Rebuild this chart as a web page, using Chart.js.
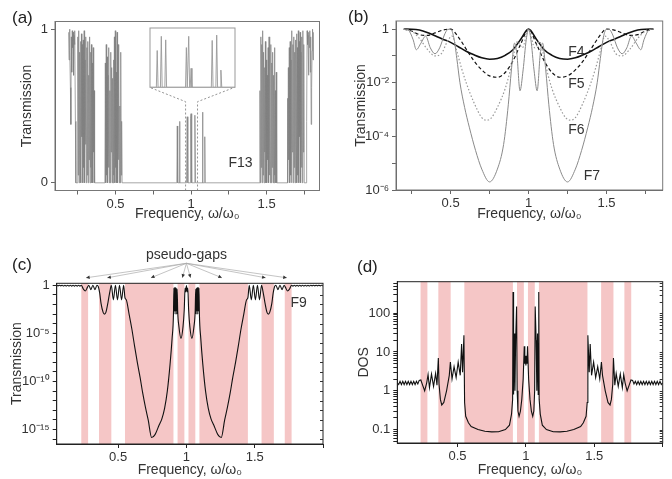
<!DOCTYPE html>
<html>
<head>
<meta charset="utf-8">
<script src="https://cdn.jsdelivr.net/npm/chart.js@4.4.0/dist/chart.umd.min.js"></script>
<style>
  body { margin:0; background:#fff; width:672px; height:479px; position:relative; overflow:hidden;
         font-family:"Liberation Sans", Arial, sans-serif; }
  canvas { position:absolute; }
  .tag { position:absolute; font-size:17px; line-height:17px; color:#222; }
</style>
</head>
<body>
<canvas id="chartA" width="336" height="230" style="left:0;top:0"></canvas>
<canvas id="chartInset" width="90" height="64" style="left:148px;top:26px"></canvas>
<canvas id="chartB" width="336" height="230" style="left:336px;top:0"></canvas>
<canvas id="chartC" width="336" height="249" style="left:0;top:230px"></canvas>
<canvas id="chartD" width="336" height="249" style="left:336px;top:230px"></canvas>
<div class="tag" style="left:12px;top:9px">(a)</div>
<div class="tag" style="left:348px;top:8px">(b)</div>
<div class="tag" style="left:12px;top:256px">(c)</div>
<div class="tag" style="left:357px;top:258px">(d)</div>
<script>
// ---- (a) F13 transmission, linear scale
const aFreq = [
  0.190,0.193,0.196,0.199,0.202,0.205,0.208,0.211,0.214,0.217,0.220,0.223,0.226,0.229,0.232,0.235,0.238,0.249,
  0.251,0.254,0.257,0.260,0.263,0.266,0.269,0.272,0.275,0.278,0.281,0.284,0.287,0.290,0.293,0.296,0.299,0.302,0.305,0.308,
  0.311,0.314,0.317,0.320,0.323,0.326,0.329,0.332,0.335,0.338,0.341,0.344,0.347,0.350,0.353,0.356,0.359,0.362,0.365,
  0.430,0.433,0.436,0.439,0.442,0.445,0.448,0.451,0.454,0.457,0.460,0.463,0.466,0.469,0.472,0.475,0.478,0.481,0.484,0.487,0.490,
  0.493,0.496,0.499,0.502,0.505,0.508,0.511,0.514,0.517,0.520,0.523,0.526,0.529,0.532,0.535,0.538,0.541,0.544,0.547,
  0.906,0.909,0.912,0.921,0.924,0.927,0.970,0.9745,0.979,0.994,0.997,1.000,1.003,1.006,1.021,1.0255,1.030,
  1.073,1.076,1.079,1.088,1.091,1.094,1.100,
  1.453,1.456,1.459,1.462,1.465,1.468,1.471,1.474,1.477,1.480,1.483,1.486,1.489,1.492,1.495,1.498,1.501,1.504,1.507,1.510,
  1.513,1.516,1.519,1.522,1.525,1.528,1.531,1.534,1.537,1.540,1.543,1.546,1.549,1.552,1.555,1.558,1.561,1.564,1.567,
  1.635,1.638,1.641,1.644,1.647,1.650,1.653,1.656,1.659,1.662,1.665,1.668,1.671,1.674,1.677,1.680,1.683,1.686,1.689,1.692,
  1.695,1.698,1.701,1.704,1.707,1.710,1.713,1.716,1.719,1.722,1.725,1.728,1.731,1.734,1.737,1.740,1.743,1.746,1.749,
  1.751,1.762,1.765,1.768,1.771,1.774,1.777,1.780,1.783,1.786,1.789,1.792,1.795,1.798,1.801,1.804,1.807,1.810
];
const aTrans = [
  0.98,0.80,1.00,0.86,0.62,0.38,0.95,0.72,0.99,0.88,0.98,0.70,0.96,0.90,0.99,0.40,0.00,0.00,
  0.95,0.05,0.99,0.00,0.85,0.20,0.92,0.00,0.97,0.30,0.90,0.00,0.93,0.10,0.99,0.00,0.80,0.25,0.95,0.00,
  0.88,0.05,0.92,0.00,0.70,0.15,0.95,0.00,0.85,0.10,0.90,0.00,0.78,0.00,0.88,0.20,0.60,0.00,0.00,
  0.00,0.78,0.00,0.90,0.05,0.82,0.00,0.70,0.10,0.88,0.00,0.60,0.00,0.85,0.20,0.75,0.00,0.68,0.00,0.80,0.05,
  0.95,0.00,0.99,0.10,0.72,0.00,0.98,0.00,0.90,0.15,0.70,0.00,0.50,0.00,0.85,0.05,0.40,0.00,0.00,
  0.00,0.37,0.00,0.00,0.40,0.00,0.00,0.43,0.00,0.00,0.42,0.45,0.43,0.00,0.00,0.44,0.00,
  0.00,0.46,0.00,0.00,0.30,0.00,0.00,
  0.00,0.60,0.00,0.95,0.10,0.90,0.00,0.99,0.05,0.85,0.00,0.75,0.20,0.92,0.00,0.80,0.00,0.70,0.15,0.88,
  0.00,0.95,0.05,0.65,0.00,0.90,0.00,0.78,0.10,0.85,0.00,0.70,0.00,0.88,0.05,0.60,0.00,0.72,0.00,
  0.00,0.55,0.00,0.75,0.15,0.88,0.00,0.92,0.05,0.80,0.00,0.99,0.20,0.90,0.00,0.95,0.10,0.85,0.00,0.93,
  0.25,0.97,0.00,0.88,0.05,0.99,0.00,0.92,0.30,0.98,0.00,0.85,0.10,0.95,0.00,0.99,0.20,0.90,0.00,
  0.00,0.00,0.40,0.99,0.90,0.96,0.70,0.98,0.88,0.99,0.72,0.95,0.38,0.62,0.86,1.00,0.80,0.98
];
// zoom window of the inset and its guide lines (data units of panel a)
const guideLeftX = [0.964, 0.964, 0.727];
const guideRightX = [1.043, 1.043, 1.287];
const guideY = [-0.05, 0.528, 0.621];
// inset: transmission peaks around omega0
const insetFreq = [0.964,0.9699,0.9707,0.9715,0.9737,0.9745,0.9753,0.9778,0.9786,0.9794,0.9970,0.9978,0.9986,0.9992,
  1.0000,1.0008,1.0014,1.0022,1.0030,1.0210,1.0218,1.0226,1.0252,1.0260,1.0268,1.0291,1.0299,1.0307,1.043];
const insetTrans = [0,0,0.31,0,0,0.43,0,0,0.40,0,0,0.335,0,0,0.43,0,0,0.16,0,0,0.395,0,0,0.44,0,0,0.145,0,0];

// ---- (b) F4..F7 transmission, log scale
const bFreq = [0.20,0.25,0.30,0.35,0.40,0.45,0.50,0.55,0.60,0.65,0.70,0.75,0.80,0.85,0.90,0.95,1.00,
  1.05,1.10,1.15,1.20,1.25,1.30,1.35,1.40,1.45,1.50,1.55,1.60,1.65,1.70,1.75,1.80];
const f4Trans = [1.0,0.99,0.92,0.75,0.56,0.42,0.32,0.22,0.15,0.11,0.085,0.075,0.08,0.105,0.17,0.42,1.0,
  0.42,0.17,0.105,0.08,0.075,0.085,0.11,0.15,0.22,0.32,0.42,0.56,0.75,0.92,0.99,1.0];
const f5Trans = [1.0,0.85,0.62,0.58,0.72,0.92,1.0,0.5,0.18,0.065,0.03,0.018,0.016,0.024,0.065,0.28,1.0,
  0.28,0.065,0.024,0.016,0.018,0.03,0.065,0.18,0.5,1.0,0.92,0.72,0.58,0.62,0.85,1.0];
const f6Freq = [0.20,0.25,0.30,0.35,0.40,0.44,0.48,0.51,0.54,0.57,0.60,0.65,0.70,0.73,0.76,0.80,0.85,0.88,0.91,0.93,0.96,1.00,
  1.04,1.07,1.09,1.12,1.15,1.20,1.24,1.27,1.30,1.35,1.40,1.43,1.46,1.49,1.52,1.56,1.60,1.65,1.70,1.75,1.80];
const f6Trans = [1.0,0.85,0.45,0.18,0.1,0.12,0.35,0.55,0.15,0.035,0.01,0.0018,0.0005,0.0004,0.00048,0.0012,0.006,0.025,0.15,0.35,0.2,1.0,
  0.2,0.35,0.15,0.025,0.006,0.0012,0.00048,0.0004,0.0005,0.0018,0.01,0.035,0.15,0.55,0.35,0.12,0.1,0.18,0.45,0.85,1.0];
const f7Freq = [0.20,0.23,0.26,0.28,0.31,0.34,0.37,0.40,0.43,0.46,0.48,0.50,0.52,0.54,0.56,0.59,0.62,0.66,0.70,0.75,
  0.80,0.84,0.87,0.89,0.91,0.925,0.945,0.965,0.985,1.00,
  1.015,1.035,1.055,1.075,1.09,1.11,1.13,1.16,1.20,1.25,1.30,1.34,1.38,1.41,1.44,1.46,1.48,1.50,1.52,1.54,
  1.57,1.60,1.63,1.66,1.69,1.72,1.74,1.77,1.80];
const f7Trans = [1.0,0.9,0.4,0.17,0.3,0.55,0.2,0.12,0.2,0.6,0.95,1.0,0.5,0.08,0.01,0.0012,0.00022,0.00003,0.000006,0.000002,
  0.000006,0.00005,0.0015,0.03,0.3,0.12,0.005,0.03,0.4,1.0,
  0.4,0.03,0.005,0.12,0.3,0.03,0.0015,0.00005,0.000006,0.000002,0.000006,0.00003,0.00022,0.0012,0.01,0.08,0.5,1.0,0.95,0.6,
  0.2,0.12,0.2,0.55,0.3,0.17,0.4,0.9,1.0];

// ---- (c) F9 transmission, log scale
const cFreq = [
  0.05,0.06,0.07,0.08,0.09,0.10,0.11,0.12,0.13,0.14,0.15,0.16,0.17,0.18,0.19,0.20,0.21,0.22,0.23,
  0.245,0.26,0.275,0.285,0.30,0.315,0.33,0.345,0.355,0.365,0.375,0.39,0.40,0.41,0.425,0.44,
  0.45,0.465,0.48,0.495,0.51,0.525,0.54,0.55,
  0.56,0.58,0.60,0.62,0.64,0.66,0.68,0.70,0.72,0.745,0.77,0.80,0.82,0.84,0.86,0.88,0.895,0.905,
  0.908,0.911,0.914,0.917,0.920,0.923,0.926,0.929,0.932,0.936,
  0.945,0.96,0.975,0.984,0.99,0.995,1.00,
  1.005,1.01,1.016,1.025,1.04,1.055,1.064,
  1.068,1.071,1.074,1.077,1.080,1.083,1.086,1.089,1.092,
  1.095,1.105,1.12,1.14,1.16,1.18,1.20,1.23,1.255,1.28,1.30,1.32,1.34,1.36,1.38,1.40,1.42,1.44,
  1.45,1.46,1.475,1.49,1.505,1.52,1.535,1.55,
  1.56,1.575,1.59,1.60,1.61,1.625,1.635,1.645,1.655,1.67,1.685,1.70,1.715,1.725,1.74,1.755,
  1.77,1.78,1.79,1.80,1.81,1.82,1.83,1.84,1.85,1.86,1.87,1.88,1.89,1.90,1.91,1.92,1.93,1.94,1.95,1.96,
  1.97,1.98,1.99,2.00
];
const cTrans = [
  1,0.85,1,0.85,1,0.82,1,0.82,1,0.82,1,0.8,1,0.8,1,0.8,1,0.8,1,
  0.4,0.25,0.6,1.0,0.35,1.0,0.35,1.0,0.7,0.15,0.012,0.0015,0.001,0.0015,0.015,0.25,
  1.0,0.03,1.0,0.03,1.0,0.03,1.0,0.05,
  0.03,1e-3,3e-5,5e-7,1e-8,3e-10,6e-12,2e-13,1e-14,1.5e-16,3e-16,3e-15,1.3e-14,1.6e-13,1e-11,6e-9,3e-6,1e-3,
  0.5,0.002,0.6,0.001,0.6,0.002,0.5,0.001,0.4,2e-3,
  5e-5,3e-6,5e-5,3e-3,0.5,0.2,0.9,
  0.2,0.5,3e-3,5e-5,3e-6,5e-5,2e-3,
  0.4,0.001,0.5,0.002,0.6,0.001,0.6,0.002,0.5,
  1e-3,3e-6,6e-9,1e-11,1.6e-13,1.3e-14,3e-15,3e-16,1.5e-16,1e-14,2e-13,6e-12,3e-10,1e-8,5e-7,3e-5,1e-3,0.03,
  0.05,1.0,0.03,1.0,0.03,1.0,0.03,1.0,
  0.25,0.015,0.0015,0.001,0.0015,0.012,0.15,0.7,1.0,0.35,1.0,0.35,1.0,0.6,0.25,0.4,
  1,0.8,1,0.8,1,0.8,1,0.8,1,0.82,1,0.82,1,0.82,1,0.85,1,0.85,1,0.85,
  1,0.85,1,0.85
];

// ---- (d) density of states, log scale
const dFreq = [
  0.06,0.07,0.08,0.09,0.10,0.11,0.12,0.13,0.14,0.15,0.16,0.17,0.18,0.19,0.20,0.21,0.22,
  0.232,0.245,0.26,0.275,0.285,0.295,0.31,0.325,0.34,0.35,0.36,
  0.365,0.375,0.385,0.40,0.42,0.44,0.448,
  0.46,0.475,0.49,0.505,0.52,0.53,0.537,0.547,
  0.552,0.56,0.58,0.60,0.65,0.70,0.75,0.80,0.85,0.88,0.895,0.903,
  0.906,0.91,0.915,0.92,0.925,0.932,0.936,
  0.942,0.95,0.96,0.97,0.98,0.988,0.992,0.996,1.00,
  1.004,1.008,1.012,1.02,1.03,1.04,1.05,1.058,
  1.064,1.068,1.075,1.08,1.085,1.09,1.094,
  1.097,1.105,1.12,1.15,1.20,1.25,1.30,1.35,1.40,1.42,1.44,1.448,
  1.453,1.463,1.47,1.48,1.495,1.51,1.525,1.54,
  1.552,1.56,1.58,1.60,1.615,1.625,1.635,
  1.64,1.65,1.66,1.675,1.69,1.705,1.715,1.725,1.74,1.755,1.768,
  1.78,1.79,1.80,1.81,1.82,1.83,1.84,1.85,1.86,1.87,1.88,1.89,1.90,1.91,1.92,1.93,1.94,1.95,1.96,1.97,
  1.98,1.99,2.00
];
const dDos = [
  1.6,1.45,1.75,1.45,1.75,1.45,1.75,1.45,1.75,1.45,1.75,1.45,1.75,1.45,1.75,1.5,1.85,
  1.9,1.4,1.0,1.6,2.6,1.2,2.7,1.3,2.8,1.4,7.0,
  1.5,0.6,0.43,0.5,1.0,2.5,5.5,
  2.0,4.2,2.2,5.5,2.5,16,3,27,
  0.5,0.22,0.15,0.12,0.1,0.09,0.087,0.088,0.1,0.13,0.25,0.6,
  350,0.8,30,1.0,20,150,1.0,
  0.3,0.22,0.3,0.6,2.0,14,5,8,4.5,
  8,5,14,2.0,0.6,0.3,0.22,0.3,
  1.0,150,20,1.0,30,0.8,350,
  0.6,0.25,0.13,0.1,0.088,0.087,0.09,0.1,0.12,0.15,0.22,0.5,
  27,3,16,2.5,5.5,2.2,4.2,2.0,
  5.5,2.5,1.0,0.5,0.43,0.6,1.5,
  7.0,1.4,2.8,1.3,2.7,1.2,2.6,1.6,1.0,1.4,1.9,
  1.85,1.5,1.75,1.45,1.75,1.45,1.75,1.45,1.75,1.45,1.75,1.45,1.75,1.45,1.75,1.45,1.75,1.45,1.75,1.45,
  1.75,1.45,1.6
];

// pseudo-gaps shared by (c) and (d)
const gapRanges = [[0.23,0.28],[0.36,0.45],[0.55,0.905],[0.935,0.985],[1.015,1.065],[1.095,1.45],[1.55,1.64],[1.72,1.77]];
const gapArrows = [0.265,0.42,0.74,0.97,1.03,1.26,1.58,1.735];

const freqMajor = [0.5, 1, 1.5];
const freqTicksAB = [0.25, 0.5, 0.75, 1, 1.25, 1.5, 1.75];

Chart.defaults.font.family = '"Liberation Sans", Arial, sans-serif';
Chart.defaults.font.size = 13;
Chart.defaults.color = '#333';

const SUP = {'-':'⁻','0':'⁰','1':'¹','2':'²','3':'³','4':'⁴','5':'⁵','6':'⁶','7':'⁷','8':'⁸','9':'⁹'};
function pow10(e) {
  return e === 0 ? '1' : '10' + String(e).split('').map(c => SUP[c]).join('');
}
function pts(xs, ys) { return xs.map((x, i) => ({x: x, y: ys[i]})); }

// box around the plot area
const frame = {
  id: 'frame',
  afterDatasetsDraw(chart, args, opts) {
    const {ctx, chartArea: a} = chart;
    ctx.save();
    ctx.strokeStyle = opts.color || '#555';
    ctx.lineWidth = 1;
    ctx.strokeRect(a.left, a.top, a.width, a.height);
    ctx.restore();
  }
};

// shaded frequency ranges
const bands = {
  id: 'bands',
  beforeDatasetsDraw(chart, args, opts) {
    if (!opts.ranges) return;
    const {ctx, chartArea: a, scales: {x}} = chart;
    ctx.save();
    ctx.fillStyle = opts.color;
    opts.ranges.forEach(([lo, hi]) => {
      const x0 = x.getPixelForValue(lo), x1 = x.getPixelForValue(hi);
      ctx.fillRect(x0, a.top, x1 - x0, a.height);
    });
    ctx.restore();
  }
};

// text labels placed at data coordinates
const notes = {
  id: 'notes',
  afterDatasetsDraw(chart, args, opts) {
    if (!opts.items) return;
    const {ctx, scales: {x, y}} = chart;
    ctx.save();
    ctx.font = '14px "Liberation Sans", Arial, sans-serif';
    ctx.fillStyle = '#333';
    ctx.textAlign = 'center';
    ctx.textBaseline = 'middle';
    opts.items.forEach(n => ctx.fillText(n.text, x.getPixelForValue(n.x), y.getPixelForValue(n.y)));
    ctx.restore();
  }
};

// small tick marks on the inside of the right edge
const innerTicks = {
  id: 'innerTicks',
  afterDatasetsDraw(chart, args, opts) {
    if (!opts.show) return;
    const {ctx, chartArea: a, scales: {y}} = chart;
    ctx.save();
    ctx.strokeStyle = '#333';
    ctx.lineWidth = 1;
    y.ticks.forEach(t => {
      const py = Math.round(y.getPixelForValue(t.value)) + 0.5;
      ctx.beginPath(); ctx.moveTo(a.right - 3, py); ctx.lineTo(a.right, py); ctx.stroke();
    });
    ctx.restore();
  }
};

// "pseudo-gaps" callout above panel (c)
const callout = {
  id: 'callout',
  afterDraw(chart, args, opts) {
    if (!opts.targets) return;
    const {ctx, chartArea: a, scales: {x}} = chart;
    const ox = x.getPixelForValue(1.0), oy = a.top - 20, ty = a.top - 5.5;
    ctx.save();
    ctx.font = '14px "Liberation Sans", Arial, sans-serif';
    ctx.fillStyle = '#333';
    ctx.textAlign = 'center';
    ctx.textBaseline = 'middle';
    ctx.fillText('pseudo-gaps', ox, a.top - 28);
    opts.targets.forEach(f => {
      const tx = x.getPixelForValue(f);
      const ang = Math.atan2(ty - oy, tx - ox);
      ctx.strokeStyle = '#aaa';
      ctx.lineWidth = 0.7;
      ctx.beginPath(); ctx.moveTo(ox, oy); ctx.lineTo(tx, ty); ctx.stroke();
      ctx.fillStyle = '#333';
      ctx.beginPath();
      ctx.moveTo(tx, ty);
      ctx.lineTo(tx - 4 * Math.cos(ang - 0.45), ty - 4 * Math.sin(ang - 0.45));
      ctx.lineTo(tx - 4 * Math.cos(ang + 0.45), ty - 4 * Math.sin(ang + 0.45));
      ctx.closePath(); ctx.fill();
    });
    ctx.restore();
  }
};

function freqAxis(min, max, tickVals, height, titlePad, color) {
  return {
    type: 'linear', min: min, max: max,
    afterFit: s => { s.height = height; },
    afterBuildTicks: s => { s.ticks = tickVals.map(v => ({value: v})); },
    ticks: { autoSkip: false, maxRotation: 0, padding: 2,
             callback: v => freqMajor.includes(v) ? String(v) : '' },
    grid: { drawOnChartArea: false, tickLength: 4, color: color },
    border: { color: color },
    title: { display: true, text: 'Frequency, ω/ω₀', font: {size: 14}, padding: {top: 0, bottom: titlePad} }
  };
}

function valueAxis(type, min, max, tickVals, labelFn, width, titleText, titlePad, color) {
  return {
    type: type, min: min, max: max,
    afterFit: s => { s.width = width; },
    afterBuildTicks: s => { s.ticks = tickVals.map(v => ({value: v})); },
    ticks: { autoSkip: false, padding: 3, callback: labelFn },
    grid: { drawOnChartArea: false, tickLength: 4, color: color },
    border: { color: color },
    title: { display: true, text: titleText, font: {size: 14}, padding: {top: titlePad, bottom: 0} }
  };
}

const base = { responsive: false, animation: false, events: [] };

// ---- panel (a)
new Chart(document.getElementById('chartA'), {
  type: 'line',
  data: { datasets: [
    { data: pts(aFreq, aTrans), borderColor: '#808080', borderWidth: 0.7, pointRadius: 0, tension: 0 },
    { data: pts(guideLeftX, guideY), borderColor: '#888', borderWidth: 0.9, borderDash: [2, 2], pointRadius: 0 },
    { data: pts(guideRightX, guideY), borderColor: '#888', borderWidth: 0.9, borderDash: [2, 2], pointRadius: 0 }
  ]},
  options: Object.assign({}, base, {
    layout: { padding: {left: 0, top: 21.5, right: 16.5, bottom: 0} },
    scales: {
      x: freqAxis(0.1, 1.85, freqTicksAB, 39.5, 7.6, '#666'),
      y: valueAxis('linear', -0.05, 1.05, [0, 1], v => String(v), 55, 'Transmission', 18.6, '#666')
    },
    plugins: { legend: {display: false}, tooltip: {enabled: false},
      frame: {color: '#777'},
      notes: { items: [{text: 'F13', x: 1.327, y: 0.127}] } }
  }),
  plugins: [frame, notes]
});

// ---- inset of panel (a)
new Chart(document.getElementById('chartInset'), {
  type: 'line',
  data: { datasets: [
    { data: pts(insetFreq, insetTrans), borderColor: '#999', borderWidth: 0.9, pointRadius: 0, tension: 0 }
  ]},
  options: Object.assign({}, base, {
    layout: { padding: {left: 2, top: 2, right: 3, bottom: 2.7} },
    scales: {
      x: { type: 'linear', min: 0.964, max: 1.043, display: false },
      y: { type: 'linear', min: 0, max: 0.5, display: false }
    },
    plugins: { legend: {display: false}, tooltip: {enabled: false}, frame: {color: '#999'} }
  }),
  plugins: [frame]
});

// ---- panel (b)
const decadesB = [1, 1e-1, 1e-2, 1e-3, 1e-4, 1e-5, 1e-6];
new Chart(document.getElementById('chartB'), {
  type: 'line',
  data: { datasets: [
    { data: pts(f7Freq, f7Trans), borderColor: '#8a8a8a', borderWidth: 1, pointRadius: 0, cubicInterpolationMode: 'monotone' },
    { data: pts(f6Freq, f6Trans), borderColor: '#999', borderWidth: 1.2, borderDash: [1.5, 2], pointRadius: 0, cubicInterpolationMode: 'monotone' },
    { data: pts(bFreq, f5Trans), borderColor: '#111', borderWidth: 1.2, borderDash: [3.5, 2.5], pointRadius: 0, cubicInterpolationMode: 'monotone' },
    { data: pts(bFreq, f4Trans), borderColor: '#111', borderWidth: 1.6, pointRadius: 0, cubicInterpolationMode: 'monotone' }
  ]},
  options: Object.assign({}, base, {
    layout: { padding: {left: 0, top: 21, right: 9.3, bottom: 0} },
    scales: {
      x: freqAxis(0.15, 1.86, freqTicksAB, 40, 7.6, '#666'),
      y: valueAxis('logarithmic', 1e-6, 2, decadesB, v => {
        const e = Math.round(Math.log10(v));
        return e % 2 === 0 ? pow10(e) : '';
      }, 60, 'Transmission', 16.6, '#666')
    },
    plugins: { legend: {display: false}, tooltip: {enabled: false},
      frame: {color: '#777'},
      notes: { items: [
        {text: 'F4', x: 1.306, y: 0.138},
        {text: 'F5', x: 1.306, y: 0.0091},
        {text: 'F6', x: 1.306, y: 1.66e-4},
        {text: 'F7', x: 1.406, y: 3.3e-6}
      ] } }
  }),
  plugins: [frame, notes]
});

// ---- panel (c)
const decadesC = [];
for (let e = 0; e >= -16; e--) decadesC.push(Math.pow(10, e));
new Chart(document.getElementById('chartC'), {
  type: 'line',
  data: { datasets: [
    { data: pts(cFreq, cTrans), borderColor: '#111', borderWidth: 1.1, pointRadius: 0, cubicInterpolationMode: 'monotone' }
  ]},
  options: Object.assign({}, base, {
    layout: { padding: {left: 0, top: 53.3, right: 13, bottom: 0} },
    scales: {
      x: freqAxis(0.05, 2.0, [0.5, 1, 1.5, 2.0], 35, 0.6, '#222'),
      y: valueAxis('logarithmic', Math.pow(10, -16.5), Math.pow(10, 0.2), decadesC, v => {
        const e = Math.round(Math.log10(v));
        return e % 5 === 0 ? pow10(e) : '';
      }, 56.7, 'Transmission', 8.9, '#222')
    },
    plugins: { legend: {display: false}, tooltip: {enabled: false},
      frame: {color: '#222'},
      bands: { ranges: gapRanges, color: '#f5c6c6' },
      innerTicks: { show: true },
      callout: { targets: gapArrows },
      notes: { items: [{text: 'F9', x: 1.822, y: 0.013}] } }
  }),
  plugins: [bands, frame, innerTicks, callout, notes]
});

// ---- panel (d)
const ticksD = [];
[0.01, 0.1, 1, 10, 100].forEach(d => {
  for (let m = 1; m <= 9; m++) {
    const v = +(d * m).toPrecision(3);
    if (v >= 0.045 && v <= 650) ticksD.push(v);
  }
});
new Chart(document.getElementById('chartD'), {
  type: 'line',
  data: { datasets: [
    { data: pts(dFreq, dDos), borderColor: '#111', borderWidth: 1.1, pointRadius: 0, tension: 0 }
  ]},
  options: Object.assign({}, base, {
    layout: { padding: {left: 0, top: 51.7, right: 9.3, bottom: 0} },
    scales: {
      x: freqAxis(0.06, 2.0, [0.5, 1, 1.5, 2.0], 36, 0.6, '#222'),
      y: valueAxis('logarithmic', 0.045, 650, ticksD, v => {
        return [0.1, 1, 10, 100].includes(v) ? String(v) : '';
      }, 61.3, 'DOS', 20, '#222')
    },
    plugins: { legend: {display: false}, tooltip: {enabled: false},
      frame: {color: '#222'},
      bands: { ranges: gapRanges, color: '#f5c6c6' },
      innerTicks: { show: true } }
  }),
  plugins: [bands, frame, innerTicks]
});
</script>
</body>
</html>
